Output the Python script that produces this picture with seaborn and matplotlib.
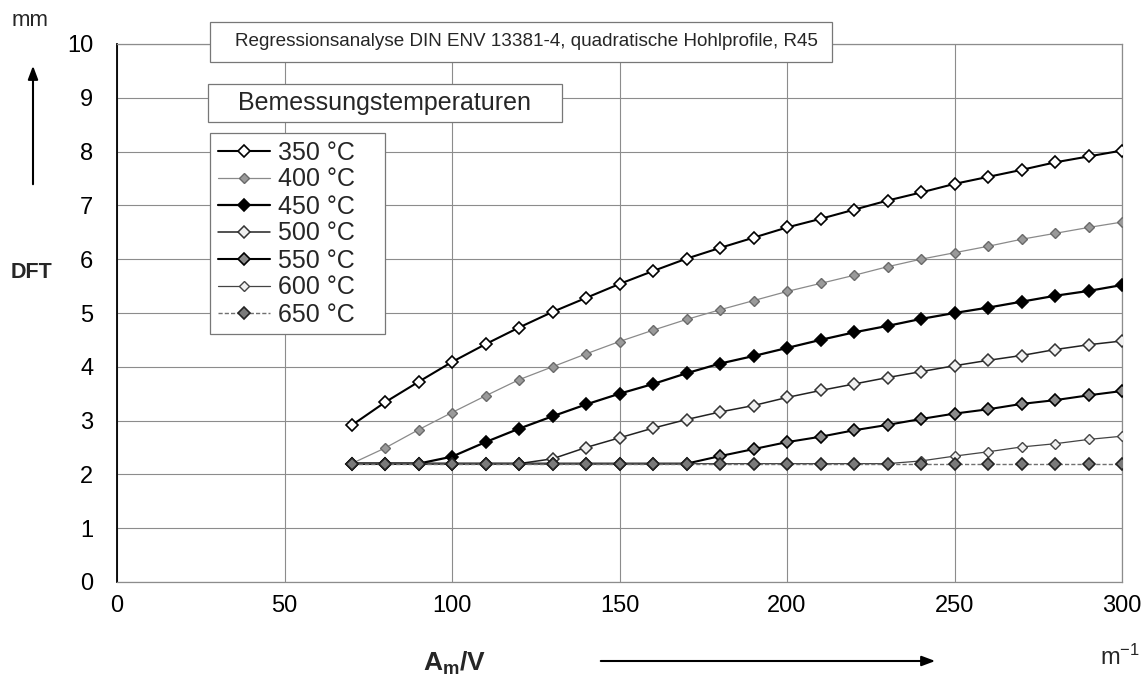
import numpy as np
import pandas as pd
import matplotlib
matplotlib.use("Agg")
import matplotlib.pyplot as plt
from matplotlib.patches import Rectangle, FancyArrowPatch
import seaborn as sns

# ---- data ----
x_vals = list(range(70, 301, 10))
labels = ["350 °C", "400 °C", "450 °C", "500 °C", "550 °C", "600 °C", "650 °C"]
t350 = [2.91, 3.34, 3.72, 4.09, 4.42, 4.73, 5.02, 5.28, 5.54, 5.78, 6.01, 6.21,
        6.40, 6.59, 6.75, 6.92, 7.09, 7.24, 7.40, 7.53, 7.66, 7.80, 7.91, 8.02]
t400 = [2.20, 2.49, 2.83, 3.15, 3.46, 3.76, 4.00, 4.24, 4.47, 4.68, 4.88, 5.06,
        5.23, 5.40, 5.55, 5.70, 5.86, 6.00, 6.12, 6.24, 6.37, 6.48, 6.59, 6.69]
t450 = [2.20, 2.20, 2.20, 2.33, 2.60, 2.85, 3.08, 3.30, 3.50, 3.68, 3.88, 4.06,
        4.20, 4.35, 4.50, 4.64, 4.76, 4.89, 5.00, 5.10, 5.21, 5.32, 5.41, 5.52]
t500 = [2.20, 2.20, 2.20, 2.20, 2.20, 2.20, 2.29, 2.50, 2.68, 2.86, 3.02, 3.16,
        3.28, 3.43, 3.56, 3.68, 3.80, 3.91, 4.02, 4.12, 4.21, 4.32, 4.41, 4.48]
t550 = [2.20, 2.20, 2.20, 2.20, 2.20, 2.20, 2.20, 2.20, 2.20, 2.20, 2.20, 2.34,
        2.47, 2.60, 2.70, 2.82, 2.92, 3.03, 3.13, 3.21, 3.31, 3.38, 3.47, 3.55]
t600 = [2.20, 2.20, 2.20, 2.20, 2.20, 2.20, 2.20, 2.20, 2.20, 2.20, 2.20, 2.20,
        2.20, 2.20, 2.20, 2.20, 2.20, 2.25, 2.34, 2.42, 2.51, 2.57, 2.65, 2.71]
t650 = [2.20] * 24
series = [t350, t400, t450, t500, t550, t600, t650]

x_ticks = [0, 50, 100, 150, 200, 250, 300]
y_ticks = list(range(0, 11))

# ---- styles ----
styles = [
    dict(color="black", lw=1.5, mfc="white", mec="black", ms=6.4, mew=1.2, ls="-"),
    dict(color="#8a8a8a", lw=0.9, mfc="#9a9a9a", mec="#6a6a6a", ms=5.4, mew=1.0, ls="-"),
    dict(color="black", lw=1.6, mfc="black", mec="black", ms=6.4, mew=1.2, ls="-"),
    dict(color="#222222", lw=1.1, mfc="#f0f0f0", mec="#333333", ms=6.4, mew=1.1, ls="-"),
    dict(color="black", lw=1.5, mfc="#8a8a8a", mec="black", ms=6.4, mew=1.2, ls="-"),
    dict(color="#444444", lw=0.9, mfc="#f0f0f0", mec="#444444", ms=5.6, mew=1.0, ls="-"),
    dict(color="#707070", lw=1.0, mfc="#7a7a7a", mec="#222222", ms=6.4, mew=1.2, ls=(0, (3, 1.5))),
]

sns.set_theme(style="white")
plt.rcParams["font.family"] = ["Liberation Sans", "DejaVu Sans"]
plt.rcParams["mathtext.fontset"] = "custom"
plt.rcParams["mathtext.rm"] = "Liberation Sans"
plt.rcParams["mathtext.bf"] = "Liberation Sans:bold"
plt.rcParams["mathtext.it"] = "Liberation Sans:italic"

W, H = 1146, 681
fig = plt.figure(figsize=(W / 100, H / 100), dpi=100)
ax = fig.add_axes([117 / W, 1 - 582 / H, 1005 / W, 538 / H])

for lab, ys, st in zip(labels, series, styles):
    df = pd.DataFrame({"x": x_vals, "y": ys})
    sns.lineplot(data=df, x="x", y="y", ax=ax, label=lab, color=st["color"],
                 linewidth=st["lw"], linestyle=st["ls"], marker="D",
                 markersize=st["ms"], markerfacecolor=st["mfc"],
                 markeredgecolor=st["mec"], markeredgewidth=st["mew"], zorder=3)

ax.set_xlim(0, 300)
ax.set_ylim(0, 10)
ax.set_xticks(x_ticks)
ax.set_yticks(y_ticks)
ax.set_xlabel("")
ax.set_ylabel("")
ax.grid(True, color="#8c8c8c", linewidth=0.8)
ax.set_axisbelow(True)
for s in ["top", "right", "bottom"]:
    ax.spines[s].set_color("#8c8c8c")
    ax.spines[s].set_linewidth(0.9)
ax.spines["left"].set_color("black")
ax.spines["left"].set_linewidth(1.3)
ax.tick_params(axis="both", labelsize=17, length=0, colors="black")
ax.tick_params(axis="y", pad=17)
ax.tick_params(axis="x", pad=9)

leg = ax.legend(loc="upper left",
                bbox_to_anchor=(93 / 1005, (582 - 133) / 538 - 0.01, 175 / 1005, 0.01),
                mode="expand",
                fancybox=False, framealpha=1, edgecolor="#777777", fontsize=18,
                handlelength=2.1, handletextpad=0.3, labelspacing=0.12,
                borderpad=0.3, borderaxespad=0)
leg.get_frame().set_linewidth(0.9)
leg.set_zorder(5)


def fig_box(x0, y0, x1, y1):
    fig.patches.append(Rectangle((x0 / W, 1 - y1 / H), (x1 - x0) / W, (y1 - y0) / H,
                                 transform=fig.transFigure, fc="white",
                                 ec="#777777", lw=0.9, zorder=5))


# title box and legend title box
fig_box(210, 22, 832, 62)
fig.text(526 / W, 1 - 42 / H,
         "Regressionsanalyse DIN ENV 13381-4, quadratische Hohlprofile, R45",
         ha="center", va="center", fontsize=13.6, zorder=6)
fig_box(208, 84, 562, 122)
fig.text(385 / W, 1 - 103 / H, "Bemessungstemperaturen",
         ha="center", va="center", fontsize=18, zorder=6)

# axis labels
fig.text(30 / W, 1 - 20 / H, "mm", ha="center", va="center", fontsize=16)
fig.text(32 / W, 1 - 273 / H, "DFT", ha="center", va="center",
         fontsize=15.5, fontweight="bold")
fig.text(1120 / W, 1 - 657 / H, "m$^{-1}$", ha="center", va="center", fontsize=17)
fig.text(455 / W, 1 - 663 / H, r"$\mathbf{A_m/V}$", ha="center", va="center",
         fontsize=19)
fig.patches.append(FancyArrowPatch(
    (33 / W, 1 - 187 / H), (33 / W, 1 - 63 / H),
    transform=fig.transFigure, arrowstyle="-|>,head_length=8,head_width=3",
    color="black", lw=1.5, mutation_scale=1))
fig.patches.append(FancyArrowPatch(
    (598 / W, 1 - 661 / H), (938 / W, 1 - 661 / H),
    transform=fig.transFigure, arrowstyle="-|>,head_length=8,head_width=3",
    color="black", lw=1.5, mutation_scale=1))

fig.savefig("out.png", dpi=100)
